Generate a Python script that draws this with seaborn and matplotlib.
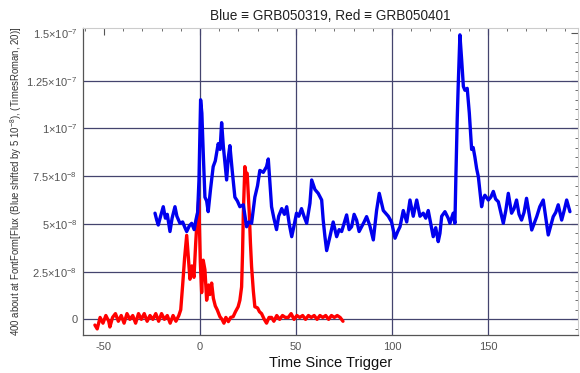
import matplotlib
matplotlib.use("Agg")
import matplotlib.pyplot as plt
from matplotlib.ticker import MultipleLocator, FixedLocator
import numpy as np
import pandas as pd
import seaborn as sns

# ---------------- data (flux in units of 1e-8) ----------------
blue_t = [-23.4, -22.5, -21.7, -20.5, -19.1, -18.0, -17.0, -15.6, -14.5, -13.0,
          -12.0, -10.4, -9.0, -7.8, -6.9, -5.5, -4.3, -3.0, -2.1, -1.2,
          -0.5, 0.35, 1.0, 1.8, 2.6, 3.5, 4.3, 5.5, 6.9, 8.0,
          9.5, 10.5, 11.3, 12.2, 13.0, 13.9, 14.8, 15.6, 16.8, 18.2,
          19.5, 20.8, 22.6, 24.3, 25.5, 26.9, 28.6, 30.0, 31.2, 33.0,
          34.7, 35.6, 37.3, 38.5, 39.9, 41.0, 42.6, 44.0, 45.2, 46.5,
          47.8, 49.0, 50.3, 51.5, 52.9, 54.2, 55.6, 57.3, 58.2, 59.9,
          61.6, 63.4, 64.2, 65.1, 66.0, 67.7, 69.4, 71.2, 72.5, 73.8,
          75.0, 76.4, 77.7, 79.0, 80.3, 81.6, 82.9, 84.2, 85.5, 86.8,
          88.5, 90.3, 92.0, 93.4, 95.5, 98.1, 99.8, 101.6, 103.0, 104.2,
          105.9, 107.7, 109.4, 111.1, 112.9, 114.6, 116.3, 117.6, 118.9, 120.2,
          121.5, 122.8, 124.1, 125.0, 125.9, 127.6, 129.3, 130.2, 131.9, 132.8,
          133.3, 134.0, 134.5, 135.4, 136.3, 137.2, 138.0, 139.2, 140.3, 141.5,
          142.3, 143.2, 144.1, 145.0, 146.7, 147.5, 148.4, 150.2, 151.5, 152.8,
          154.0, 155.4, 156.7, 158.0, 159.3, 160.6, 162.3, 163.6, 164.9, 166.2,
          167.5, 168.8, 170.1, 171.5, 172.8, 174.0, 175.4, 177.0, 178.8, 180.0,
          181.4, 182.7, 184.0, 185.3, 186.6, 188.4, 189.7, 191.0, 192.7]
blue_f = [5.56, 5.2, 4.94, 5.4, 5.9, 5.3, 5.5, 4.6, 5.3, 5.9,
          5.4, 5.03, 5.1, 4.8, 4.6, 4.9, 5.03, 4.7, 5.2, 5.6,
          7.3, 11.5, 10.8, 8.5, 6.4, 6.2, 5.64, 6.8, 8.0, 8.3,
          9.2, 8.9, 10.3, 9.05, 8.2, 7.3, 8.5, 9.1, 7.8, 6.4,
          6.2, 5.9, 6.0, 4.85, 5.1, 5.03, 6.4, 7.0, 7.8, 7.7,
          8.0, 8.4, 5.9, 5.3, 4.7, 5.4, 5.8, 5.5, 5.9, 5.0,
          4.33, 4.9, 5.56, 5.4, 5.8, 5.4, 5.03, 6.08, 7.3, 6.8,
          6.6, 6.25, 5.2, 4.33, 3.6, 4.33, 5.1, 4.33, 4.7, 4.6,
          5.0, 5.47, 4.7, 4.85, 5.5, 5.2, 4.6, 4.85, 5.1, 5.38,
          4.9, 4.16, 5.7, 6.6, 5.7, 5.4, 5.1, 4.25, 4.6, 4.85,
          5.7, 5.1, 6.25, 5.4, 6.25, 5.4, 5.56, 5.3, 5.7, 5.0,
          4.33, 4.8, 4.07, 4.5, 5.4, 5.64, 5.3, 5.03, 5.56, 5.03,
          7.47, 10.5, 12.2, 14.9, 13.6, 12.2, 12.0, 12.1, 10.8, 8.9,
          9.0, 8.5, 7.9, 7.47, 5.9, 6.3, 6.5, 6.25, 6.4, 6.7,
          6.3, 6.16, 5.6, 5.03, 5.7, 6.6, 5.56, 5.8, 6.25, 5.5,
          5.2, 5.6, 6.34, 5.5, 4.68, 5.0, 5.38, 5.9, 6.25, 5.4,
          4.42, 4.9, 5.38, 5.6, 6.0, 5.2, 5.7, 6.25, 5.64]

red_t = [-54.7, -53.5, -52.0, -50.5, -49.0, -47.5, -46.9, -45.5, -44.0, -42.5,
         -41.0, -39.5, -38.0, -36.5, -35.0, -33.5, -32.0, -30.5, -29.0, -27.5,
         -26.0, -24.5, -23.0, -21.5, -20.0, -18.5, -17.0, -15.5, -14.0, -12.5,
         -11.0, -10.0, -9.0, -8.0, -6.9, -6.0, -5.2, -4.2, -3.1, -2.2,
         -1.5, -0.6, 0.2, 0.9, 1.7, 2.6, 3.5, 4.5, 5.2, 6.1,
         7.0, 8.0, 9.0, 10.4, 11.5, 12.5, 13.5, 14.8, 16.0, 17.3,
         18.5, 19.9, 20.8, 21.7, 22.2, 22.6, 23.4, 24.0, 24.6, 25.2,
         25.7, 26.3, 26.9, 27.8, 28.6, 30.0, 31.0, 32.1, 33.5, 34.7,
         36.0, 37.3, 38.5, 40.0, 41.5, 43.0, 44.5, 46.0, 47.5, 49.0,
         50.5, 52.0, 53.5, 55.0, 56.5, 58.0, 59.5, 61.0, 62.5, 64.0,
         65.5, 67.0, 68.5, 70.0, 71.5, 73.0, 74.5]
red_f = [-0.3, -0.5, 0.1, -0.2, 0.2, -0.1, -0.4, 0.1, 0.3, -0.1,
         0.2, -0.2, 0.3, 0.0, 0.2, -0.2, 0.3, 0.0, 0.3, -0.1,
         0.2, 0.0, 0.3, -0.1, 0.3, 0.0, 0.2, -0.2, 0.2, -0.1,
         0.2, 0.5, 1.8, 3.2, 4.4, 3.2, 2.1, 2.8, 2.2, 4.0,
         5.2, 6.3, 3.0, 1.4, 3.1, 2.6, 1.0, 1.8, 1.3, 1.9,
         1.1, 0.7, 0.5, 0.14, 0.0, -0.2, 0.1, -0.12, 0.1, 0.14,
         0.4, 0.66, 1.0, 1.7, 3.5, 5.56, 8.0, 7.6, 7.65, 6.5,
         5.56, 4.0, 2.76, 1.5, 0.66, 0.6, 0.4, 0.3, 0.0, -0.2,
         0.1, 0.1, -0.1, 0.2, 0.0, 0.2, 0.1, 0.1, 0.3, 0.0,
         0.2, 0.1, 0.2, 0.0, 0.2, 0.1, 0.2, 0.0, 0.2, 0.1,
         0.2, 0.0, 0.2, 0.1, 0.2, 0.1, -0.1]

y_tick_vals = [0, 2.5e-8, 5e-8, 7.5e-8, 1e-7, 1.25e-7, 1.5e-7]
y_tick_labels = ["0", "2.5×10$^{-8}$", "5×10$^{-8}$", "7.5×10$^{-8}$",
                 "1×10$^{-7}$", "1.25×10$^{-7}$", "1.5×10$^{-7}$"]
x_tick_vals = [-50, 0, 50, 100, 150]
x_grid = [0, 50, 100, 150]
y_grid = [0, 2.5e-8, 5e-8, 7.5e-8, 1e-7, 1.25e-7]

title = "Blue ≡ GRB050319, Red ≡ GRB050401"
xlabel = "Time Since Trigger"
ylabel = "400 about at FontForm[Flux (Blue shifted by 5 10$^{-8}$), (TimesRoman, 20)]"

# ---------------- style ----------------
sns.set_style("white")
plt.rcParams["font.family"] = ["Liberation Sans", "DejaVu Sans"]
plt.rcParams["mathtext.fontset"] = "custom"
plt.rcParams["mathtext.rm"] = "Liberation Sans"
plt.rcParams["mathtext.it"] = "Liberation Sans:italic"
plt.rcParams["mathtext.bf"] = "Liberation Sans:bold"

blue_df = pd.DataFrame({"t": blue_t, "flux": np.array(blue_f) * 1e-8})
red_df = pd.DataFrame({"t": red_t, "flux": np.array(red_f) * 1e-8})

fig = plt.figure(figsize=(5.8, 3.73), dpi=100)
ax = fig.add_axes([83 / 580, (373 - 335) / 373, (578 - 83) / 580, (335 - 28) / 373])

grid_color = "#44446e"
for gx in x_grid:
    ax.axvline(gx, color=grid_color, lw=0.9, zorder=1)
for gy in y_grid:
    ax.axhline(gy, color=grid_color, lw=0.9, zorder=1)

sns.lineplot(data=red_df, x="t", y="flux", ax=ax, color="#ff0000", lw=2.4,
             estimator=None, sort=False, zorder=3)
sns.lineplot(data=blue_df, x="t", y="flux", ax=ax, color="#0000ee", lw=2.4,
             estimator=None, sort=False, zorder=3)

ax.set_xlim(-60.9, 196.9)
ax.set_ylim(-0.82e-8, 1.526e-7)

ax.xaxis.set_major_locator(FixedLocator(x_tick_vals))
ax.xaxis.set_minor_locator(MultipleLocator(10))
ax.yaxis.set_major_locator(FixedLocator(y_tick_vals))
ax.yaxis.set_minor_locator(MultipleLocator(0.5e-8))
ax.set_yticklabels(y_tick_labels)
ax.set_xticklabels([str(v) for v in x_tick_vals])

tick_color = "#555555"
ax.tick_params(axis="both", which="major", direction="in", length=5, width=0.8,
               color=tick_color, labelcolor="#555555", labelsize=8,
               top=True, right=True)
ax.tick_params(axis="both", which="minor", direction="in", length=2.5, width=0.6,
               color=tick_color, top=True, right=True)
ax.tick_params(axis="x", pad=5)
ax.tick_params(axis="y", pad=4)

for side in ["left", "bottom"]:
    ax.spines[side].set_color("#555555")
    ax.spines[side].set_linewidth(0.9)
for side in ["top", "right"]:
    ax.spines[side].set_color("#cccccc")
    ax.spines[side].set_linewidth(0.8)

ax.set_title(title, fontsize=9.8, color="#222222", pad=6)
ax.set_xlabel(xlabel, fontsize=10.5, color="#111111", labelpad=3)
ax.set_ylabel(ylabel, fontsize=6.9, color="#333333", labelpad=2)

fig.savefig("out.png", dpi=100)
